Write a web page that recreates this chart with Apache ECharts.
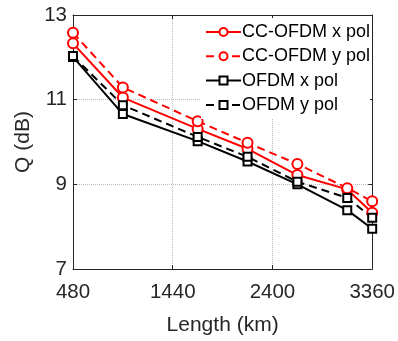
<!DOCTYPE html>
<html>
<head>
<meta charset="utf-8">
<script src="https://cdn.jsdelivr.net/npm/echarts@6/dist/echarts.min.js"></script>
<style>
html,body{margin:0;padding:0;background:#fff;}
#chart{width:398px;height:341px;}
</style>
</head>
<body>
<div id="chart"></div>
<script>
var lengths = [480, 960, 1680, 2160, 2640, 3120, 3360];
var ccX = [12.33, 11.05, 10.31, 9.84, 9.22, 8.88, 8.33];
var ccY = [12.58, 11.29, 10.49, 9.98, 9.48, 8.91, 8.60];
var ofdmX = [12.01, 10.66, 10.02, 9.54, 9.00, 8.39, 7.95];
var ofdmY = [12.03, 10.87, 10.12, 9.65, 9.06, 8.68, 8.21];
var seriesNames = ['CC-OFDM x pol', 'CC-OFDM y pol', 'OFDM x pol', 'OFDM y pol'];
var xTicks = [480, 1440, 2400, 3360];
var yTicks = [7, 9, 11, 13];

function pairs(ys) { return lengths.map(function (x, i) { return [x, ys[i]]; }); }

var FONT = '"Liberation Sans", Arial, Helvetica, sans-serif';
var AX = '#262626';

function mkSeries(name, ys, color, dashed, sym, size) {
  return {
    name: name, type: 'line', data: pairs(ys),
    symbol: sym, symbolSize: size, showAllSymbol: true,
    lineStyle: { color: color, width: 2, type: dashed ? [8, 5] : 'solid' },
    itemStyle: { color: color, borderColor: color, borderWidth: 2 },
    emphasis: { disabled: true },
    animation: false
  };
}

var chart = echarts.init(document.getElementById('chart'), null, { renderer: 'canvas' });
var common = {
  type: 'value',
  axisLine: { show: true, onZero: false, lineStyle: { color: AX, width: 1 } },
  axisTick: { show: true, inside: true, length: 4, lineStyle: { color: AX } }
};
chart.setOption({
  animation: false,
  textStyle: { fontFamily: FONT },
  grid: { left: 73, right: 24, top: 15, bottom: 68, containLabel: false },
  legend: {
    orient: 'vertical', left: 201, top: 18,
    padding: [4, 0, 4, 4], backgroundColor: '#fff',
    itemWidth: 35, itemHeight: 10, itemGap: 4.3,
    textStyle: { fontFamily: FONT, fontSize: 18, color: '#000', lineHeight: 20, padding: [0, 0, 0, -4] },
    data: seriesNames
  },
  xAxis: [
    Object.assign({}, common, {
      position: 'bottom', min: xTicks[0], max: xTicks[xTicks.length - 1], interval: xTicks[1] - xTicks[0],
      name: 'Length (km)', nameLocation: 'middle', nameGap: 46,
      nameTextStyle: { fontFamily: FONT, fontSize: 21, color: AX },
      axisLabel: { fontFamily: FONT, fontSize: 20.5, color: AX, margin: 13, formatter: function (v) { return String(v); } },
      splitLine: { show: true, lineStyle: { color: '#bdbdbd', type: [1, 1], width: 1 } }
    }),
    Object.assign({}, common, {
      position: 'top', min: xTicks[0], max: xTicks[xTicks.length - 1], interval: xTicks[1] - xTicks[0],
      axisLabel: { show: false }, splitLine: { show: false }
    })
  ],
  yAxis: [
    Object.assign({}, common, {
      position: 'left', min: yTicks[0], max: yTicks[yTicks.length - 1], interval: yTicks[1] - yTicks[0],
      name: 'Q (dB)', nameLocation: 'middle', nameGap: 33,
      nameTextStyle: { fontFamily: FONT, fontSize: 21, color: AX },
      axisLabel: { fontFamily: FONT, fontSize: 20.5, color: AX, margin: 6, formatter: function (v) { return String(v); } },
      splitLine: { show: true, lineStyle: { color: '#bdbdbd', type: [1, 1], width: 1 } }
    }),
    Object.assign({}, common, {
      position: 'right', min: yTicks[0], max: yTicks[yTicks.length - 1], interval: yTicks[1] - yTicks[0],
      axisLabel: { show: false }, splitLine: { show: false }
    })
  ],
  series: [
    mkSeries(seriesNames[0], ccX, '#ff0000', false, 'emptyCircle', 10),
    mkSeries(seriesNames[1], ccY, '#ff0000', true, 'emptyCircle', 10),
    mkSeries(seriesNames[2], ofdmX, '#000000', false, 'emptyRect', 8),
    mkSeries(seriesNames[3], ofdmY, '#000000', true, 'emptyRect', 8)
  ]
});
</script>
</body>
</html>
